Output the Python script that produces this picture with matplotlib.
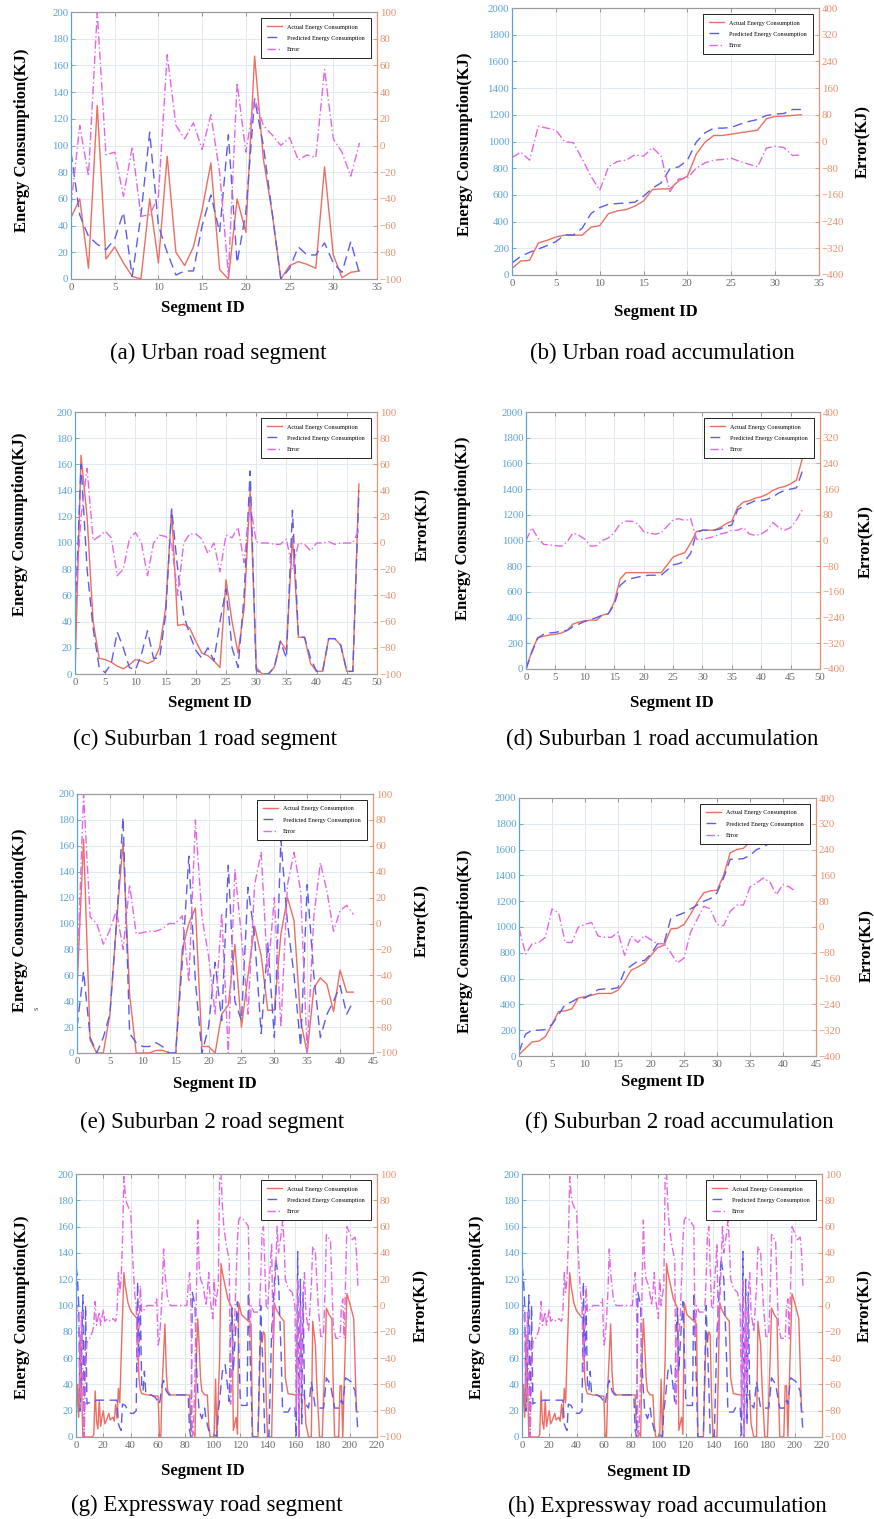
import numpy as np
import matplotlib
matplotlib.use("Agg")
import matplotlib.pyplot as plt

plt.rcParams['font.family'] = ['Liberation Serif', 'DejaVu Serif']

W, H = 874, 1519

# ---- urban road (a)/(b) ----
urban_act = [46, 60, 8, 130, 15, 24, 12, 2, 0, 60, 12, 92, 20, 10, 24, 52, 87, 7, 0, 60,
             35, 167, 90, 50, 0, 10, 13, 11, 8, 84, 18, 1, 5, 6]
urban_pred = [95, 48, 32, 26, 22, 30, 50, 2, 48, 110, 40, 20, 3, 6, 6, 40, 63, 35, 108, 12,
              50, 135, 100, 50, 0, 8, 24, 18, 18, 27, 12, 5, 28, 4]
urban_err = [-45, 15, -23, 100, -7, -5, -38, -1, -53, -52, -38, 68, 15, 5, 17, -3, 23, -20, -97, 47,
             -5, 35, 15, 8, 0, 6, -11, -7, -9, 57, 5, -5, -23, 2]
urban_cum_act = [50, 105, 110, 240, 260, 285, 298, 298, 298, 358, 370, 460, 480, 490, 515, 555, 640,
                 645, 645, 705, 740, 905, 995, 1045, 1045, 1055, 1065, 1075, 1085, 1170, 1188, 1190,
                 1195, 1200]
urban_cum_pred = [90, 140, 170, 195, 220, 250, 300, 300, 350, 460, 505, 530, 535, 540, 545, 590, 650,
                  690, 795, 810, 860, 995, 1065, 1100, 1100, 1105, 1130, 1150, 1165, 1195, 1205,
                  1210, 1240, 1240]
urban_cum_err = [-48, -32, -56, 46, 40, 34, 0, -4, -52, -104, -146, -76, -60, -56, -40, -44, -18,
                 -44, -150, -112, -110, -80, -64, -56, -54, -50, -60, -68, -76, -20, -14, -18, -42, -40]

# ---- suburban 1 (c)/(d) ----
sub1_act = [0, 167, 120, 40, 12, 11, 9, 6, 4, 7, 11, 10, 8, 10, 20, 50, 125, 37, 38, 35, 25, 16,
            14, 10, 5, 72, 40, 16, 50, 140, 5, 0, 0, 5, 25, 18, 105, 28, 28, 8, 2, 2, 27, 27, 22,
            2, 2, 145]
sub1_pred = [40, 160, 80, 35, 5, 1, 8, 32, 20, 5, 3, 15, 33, 12, 12, 45, 126, 80, 45, 30, 18, 12,
             20, 10, 40, 65, 20, 5, 60, 155, 3, 0, 0, 5, 25, 12, 125, 28, 28, 12, 2, 2, 27, 27, 22,
             2, 2, 140]
sub1_err = [-50, 20, 57, 2, 5, 9, 4, -25, -20, 3, 8, 0, -25, 0, 6, 5, 0, -40, 0, 7, 7, 3, -8, 0,
            -22, 6, 4, 12, -15, 30, 1, 0, 0, -1, -1, 3, -20, 0, -1, -6, 0, 0, 1, -1, 0, 0, 0, 10]
sub1_cum_act = [0, 140, 245, 255, 265, 270, 280, 300, 350, 365, 375, 380, 380, 420, 430, 520, 700,
                750, 750, 750, 750, 750, 750, 750, 810, 870, 890, 905, 980, 1070, 1080, 1080, 1080,
                1100, 1130, 1150, 1260, 1300, 1310, 1330, 1340, 1360, 1390, 1410, 1420, 1440, 1470,
                1640]
sub1_cum_pred = [0, 130, 240, 270, 280, 285, 295, 300, 330, 350, 370, 385, 400, 420, 430, 500, 650,
                 690, 705, 715, 725, 730, 730, 730, 770, 810, 820, 840, 900, 1060, 1080, 1080, 1080,
                 1090, 1110, 1120, 1240, 1270, 1290, 1310, 1310, 1320, 1340, 1370, 1390, 1400, 1410,
                 1540]
sub1_cum_err = [0, 40, 8, -12, -14, -16, -18, -4, 24, 16, 4, -18, -16, 0, 8, 24, 52, 60, 60, 52, 28,
                22, 20, 24, 44, 64, 68, 62, 68, 4, 4, 8, 12, 20, 24, 32, 32, 40, 20, 16, 20, 32, 56,
                40, 32, 40, 64, 96]

# ---- suburban 2 (e)/(f) ----
sub2_act = [50, 165, 10, 0, 0, 30, 100, 163, 45, 0, 0, 0, 2, 2, 0, 0, 80, 100, 112, 5, 5, 0, 30,
            37, 84, 20, 60, 98, 75, 33, 33, 92, 120, 102, 25, 0, 50, 58, 53, 32, 64, 47, 47]
sub2_pred = [20, 63, 12, 0, 12, 30, 100, 182, 15, 8, 5, 5, 8, 5, 0, 0, 70, 152, 55, 0, 20, 70, 25,
             145, 40, 25, 128, 90, 15, 85, 12, 165, 100, 60, 5, 130, 60, 12, 30, 40, 52, 30, 40]
sub2_err = [-45, 100, 5, 0, -16, -5, 10, -20, 30, -8, -7, -6, -6, -4, 0, 0, 6, -45, 80, 5, -25,
            -70, 8, -100, 42, -10, -70, 30, 55, -40, 20, -80, 30, 55, 25, -100, 5, 47, 25, -6, 10,
            14, 7]
sub2_cum_act = [10, 60, 110, 115, 150, 245, 345, 350, 365, 450, 460, 470, 485, 485, 485, 510, 580,
                665, 690, 720, 780, 840, 860, 985, 990, 1020, 1100, 1190, 1265, 1280, 1285, 1400,
                1575, 1600, 1610, 1660, 1700, 1760, 1790, 1820, 1860, 1905, 1950]
sub2_cum_pred = [30, 170, 200, 200, 205, 245, 320, 400, 420, 450, 450, 480, 515, 520, 520, 530, 660,
                 700, 735, 740, 790, 870, 880, 1065, 1090, 1110, 1140, 1170, 1200, 1220, 1265, 1380,
                 1525, 1525, 1530, 1555, 1600, 1620, 1650, 1700, 1720, 1760, 1790]
sub2_cum_err = [-4, -84, -52, -48, -32, 56, 44, -48, -48, 0, 8, 14, -28, -32, -32, -16, -88, -28,
                -48, -26, -40, -52, -52, -80, -112, -96, -16, 24, 64, 56, 8, 4, 48, 68, 68, 124, 136,
                152, 140, 100, 132, 124, 108]

# ---- expressway (g)/(h): vertices (segment id, value) ----
exp_act_id = [0, 1, 2, 3, 4, 5, 12, 13, 14, 15, 16, 17, 18, 19, 20, 21, 22, 24, 25, 27, 28, 29, 30,
              31, 32, 33, 35, 36, 38, 40, 43, 45, 46, 47, 48, 52, 60, 61, 62, 63, 65, 66, 67, 69,
              83, 84, 86, 87, 88, 89, 90, 91, 92, 94, 96, 97, 98, 101, 102, 103, 105, 106, 107, 109,
              111, 114, 115, 116, 117, 118, 119, 121, 124, 128, 129, 133, 135, 136, 137, 138, 139,
              140, 143, 145, 146, 149, 152, 153, 155, 160, 167, 168, 170, 172, 173, 175, 176, 178,
              180, 182, 183, 185, 187, 188, 189, 192, 193, 194, 195, 196, 198, 200, 203, 205, 206]
exp_act = [5, 40, 15, 78, 45, 0, 0, 2, 35, 12, 6, 28, 8, 15, 20, 10, 12, 18, 13, 15, 12, 25, 14,
           37, 26, 60, 125, 115, 102, 96, 92, 90, 45, 36, 33, 32, 31, 0, 0, 40, 86, 50, 35, 32,
           32, 5, 3, 0, 60, 90, 70, 45, 35, 32, 32, 10, 0, 0, 44, 0, 60, 132, 125, 115, 105, 98,
           5, 10, 15, 2, 102, 93, 90, 86, 0, 0, 80, 72, 80, 78, 30, 0, 0, 102, 98, 92, 88, 45, 33,
           32, 32, 10, 0, 0, 88, 70, 40, 0, 0, 60, 98, 93, 90, 40, 0, 0, 39, 39, 0, 40, 109, 102,
           90, 19, 19]
exp_pred_id = [0, 1, 2, 3, 4, 5, 6, 7, 8, 9, 13, 15, 30, 31, 32, 33, 34, 36, 38, 40, 42, 44, 45, 46,
               47, 48, 49, 50, 51, 55, 58, 60, 61, 62, 63, 64, 66, 68, 82, 83, 84, 85, 87, 88, 89,
               90, 92, 94, 95, 97, 99, 101, 103, 104, 105, 107, 109, 112, 113, 114, 115, 116, 118,
               120, 121, 125, 126, 129, 133, 135, 137, 138, 141, 143, 146, 148, 150, 151, 155, 157,
               160, 161, 162, 163, 164, 165, 166, 167, 168, 170, 172, 175, 181, 183, 186, 189, 192,
               194, 195, 197, 201, 204, 205, 206]
exp_pred = [130, 122, 100, 20, 60, 108, 0, 100, 25, 26, 26, 28, 28, 10, 7, 5, 25, 24, 20, 18, 18,
            20, 118, 60, 100, 40, 35, 50, 33, 32, 30, 27, 25, 32, 40, 43, 35, 32, 32, 5, 0, 110,
            100, 55, 35, 20, 14, 22, 14, 5, 4, 2, 0, 20, 28, 50, 55, 27, 80, 98, 50, 70, 103, 30,
            24, 24, 110, 0, 0, 100, 40, 0, 0, 80, 136, 120, 60, 19, 19, 23, 23, 0, 141, 0, 120,
            10, 110, 30, 25, 22, 42, 22, 22, 45, 40, 22, 22, 28, 25, 45, 42, 35, 20, 5]
exp_err_id = [0, 1, 2, 3, 4, 5, 6, 7, 8, 10, 12, 13, 14, 15, 16, 17, 18, 20, 21, 23, 25, 27, 29,
              30, 31, 32, 33, 34, 35, 36, 37, 39, 40, 41, 42, 43, 44, 45, 46, 47, 48, 50, 52, 57,
              59, 60, 61, 62, 63, 64, 65, 66, 67, 69, 81, 82, 83, 84, 85, 86, 87, 88, 89, 90, 91,
              93, 95, 96, 97, 98, 100, 101, 102, 104, 105, 106, 107, 108, 110, 112, 113, 114, 116,
              118, 119, 120, 123, 126, 127, 128, 130, 134, 135, 136, 137, 138, 139, 140, 142, 143,
              144, 146, 147, 148, 150, 151, 152, 153, 155, 158, 160, 161, 162, 163, 164, 165, 166,
              167, 168, 170, 172, 173, 175, 177, 179, 181, 182, 183, 186, 188, 190, 193, 194, 195,
              196, 198, 200, 202, 204, 205, 206]
exp_err = [-5, 0, -15, -70, -5, -60, -100, -50, -28, -25, -20, -15, 3, -15, -10, -5, -15, -3, -12,
           -10, -12, -10, -12, -5, 25, 10, 20, 50, 98, 85, 78, 73, 72, 45, 25, 8, 0, -50, -20, 15,
           -5, -3, 0, 0, 5, -30, -25, -10, 10, 43, 25, 15, 5, 0, 0, 15, 25, 0, -100, -90, -50, 10,
           65, 30, 20, 15, 0, 10, 25, 5, -10, 20, 0, 15, 100, 100, 75, 60, 45, 35, -75, -40, -10,
           50, 65, 67, 65, 60, -25, 0, -5, -5, 20, 55, 60, 30, 0, -3, 30, 47, -25, 30, 60, 40, 55,
           65, 50, 20, 13, 10, 0, -80, 20, -100, 0, -60, 10, 25, -5, -20, 15, 45, 40, 0, -25, -20,
           10, 54, 49, -15, -25, -25, 0, 5, -25, 60, 55, 50, 52, 40, 15]

LEGEND_LABELS = ['Actual Energy Consumption', 'Predicted Energy Consumption', 'Error']

C_ACT = '#ec6e62'
C_PRED = '#5c5ce8'
C_ERR = '#e466e6'
C_LEFT = '#5aa2d2'
C_RIGHT = '#e6906c'


def fx(px):
    return px / W


def fy(py):
    return 1 - py / H


def panel(fig, box, xlim, xstep, lmax, lstep, rmax, rstep,
          ia, act, ip, pred, ie, err):
    l, r, t, b = box
    ax = fig.add_axes([fx(l), fy(b), fx(r) - fx(l), fy(t) - fy(b)])
    ax2 = ax.twinx()

    ax.plot(ia, act, color=C_ACT, lw=1.0, zorder=3)
    ax.plot(ip, pred, color=C_PRED, lw=1.0, ls=(0, (7, 4)), zorder=3)
    ax2.plot(ie, err, color=C_ERR, lw=1.0, ls=(0, (6, 2, 1, 2)))

    ax.set_xlim(0, xlim)
    ax.set_ylim(0, lmax)
    ax2.set_ylim(-rmax, rmax)
    ax.set_xticks(np.arange(0, xlim + 1, xstep))
    ax.set_yticks(np.arange(0, lmax + 1, lstep))
    ax2.set_yticks(np.arange(-rmax, rmax + 1, rstep))

    ax.grid(True, color='#e0e8f0', lw=0.7)
    ax.set_axisbelow(True)

    ax.tick_params(axis='x', direction='in', length=3, width=0.6, colors='#888888',
                   labelcolor='#6a6a6a', labelsize=7.8, top=True, pad=3)
    ax.tick_params(axis='y', direction='in', length=3, width=0.6, colors=C_LEFT,
                   labelcolor=C_LEFT, labelsize=7.8, pad=2)
    ax2.tick_params(axis='y', direction='in', length=3, width=0.6, colors=C_RIGHT,
                    labelcolor=C_RIGHT, labelsize=7.8, pad=2)
    for a in (ax, ax2):
        a.spines['top'].set_color('#9a9a9a')
        a.spines['bottom'].set_color('#9a9a9a')
        a.spines['left'].set_color(C_LEFT)
        a.spines['right'].set_color(C_RIGHT)
        for s in a.spines.values():
            s.set_linewidth(0.8)

    handles = ax.get_lines() + ax2.get_lines()
    leg = ax2.legend(handles, LEGEND_LABELS, loc='upper right', fontsize=4.4,
                     frameon=True, fancybox=False, edgecolor='#222222', framealpha=1,
                     handlelength=2.4, labelspacing=0.95, borderpad=1.0,
                     borderaxespad=1.0, handletextpad=0.9)
    leg.get_frame().set_linewidth(0.7)
    return ax, ax2


def label(fig, x, y, s, rot=0, size=12, weight='bold'):
    fig.text(fx(x), fy(y), s, rotation=rot, ha='center', va='center',
             fontsize=size, fontweight=weight)


fig = plt.figure(figsize=(W / 100, H / 100), dpi=100)

ids = np.arange

panel(fig, (71, 377, 12, 279), 35, 5, 200, 20, 100, 20,
      ids(len(urban_act)), urban_act, ids(len(urban_pred)), urban_pred,
      ids(len(urban_err)), urban_err)
panel(fig, (512, 819, 8, 275), 35, 5, 2000, 200, 400, 80,
      ids(len(urban_cum_act)), urban_cum_act, ids(len(urban_cum_pred)), urban_cum_pred,
      ids(len(urban_cum_err)), urban_cum_err)
panel(fig, (75, 377, 412, 674), 50, 5, 200, 20, 100, 20,
      ids(len(sub1_act)), sub1_act, ids(len(sub1_pred)), sub1_pred,
      ids(len(sub1_err)), sub1_err)
panel(fig, (526, 820, 412, 669), 50, 5, 2000, 200, 400, 80,
      ids(len(sub1_cum_act)), sub1_cum_act, ids(len(sub1_cum_pred)), sub1_cum_pred,
      ids(len(sub1_cum_err)), sub1_cum_err)
panel(fig, (77, 373, 794, 1053), 45, 5, 200, 20, 100, 20,
      ids(len(sub2_act)), sub2_act, ids(len(sub2_pred)), sub2_pred,
      ids(len(sub2_err)), sub2_err)
panel(fig, (519, 816, 798, 1056), 45, 5, 2000, 200, 400, 80,
      ids(len(sub2_cum_act)), sub2_cum_act, ids(len(sub2_cum_pred)), sub2_cum_pred,
      ids(len(sub2_cum_err)), sub2_cum_err)
panel(fig, (76, 377, 1174, 1437), 220, 20, 200, 20, 100, 20,
      exp_act_id, exp_act, exp_pred_id, exp_pred, exp_err_id, exp_err)
panel(fig, (522, 822, 1174, 1437), 220, 20, 200, 20, 100, 20,
      exp_act_id, exp_act, exp_pred_id, exp_pred, exp_err_id, exp_err)

# axis titles
ylab = 'Energy Consumption(KJ)'
for x, y in [(22, 140), (465, 144), (20, 524), (463, 528), (20, 920), (465, 941),
             (22, 1307), (477, 1307)]:
    label(fig, x, y, ylab, rot=90)
for x, y in [(863, 142), (423, 524), (866, 542), (422, 920), (867, 946),
             (421, 1305), (865, 1305)]:
    label(fig, x, y, 'Error(KJ)', rot=90)
for x, y in [(203, 308), (656, 312), (210, 703), (672, 703), (215, 1084), (663, 1082),
             (203, 1471), (649, 1472)]:
    label(fig, x, y, 'Segment ID')
fig.text(fx(37), fy(1008), 's', fontsize=6, rotation=90, ha='center', va='center',
         color='#444444')

captions = [(218, 353, '(a) Urban road segment'),
            (662, 353, '(b) Urban road accumulation'),
            (205, 739, '(c) Suburban 1 road segment'),
            (662, 739, '(d) Suburban 1 road accumulation'),
            (212, 1122, '(e) Suburban 2 road segment'),
            (679, 1122, '(f) Suburban 2 road accumulation'),
            (207, 1505, '(g) Expressway road segment'),
            (667, 1506, '(h) Expressway road accumulation')]
for x, y, s in captions:
    label(fig, x, y, s, size=16.5, weight='normal')

fig.savefig('out.png', dpi=100)
